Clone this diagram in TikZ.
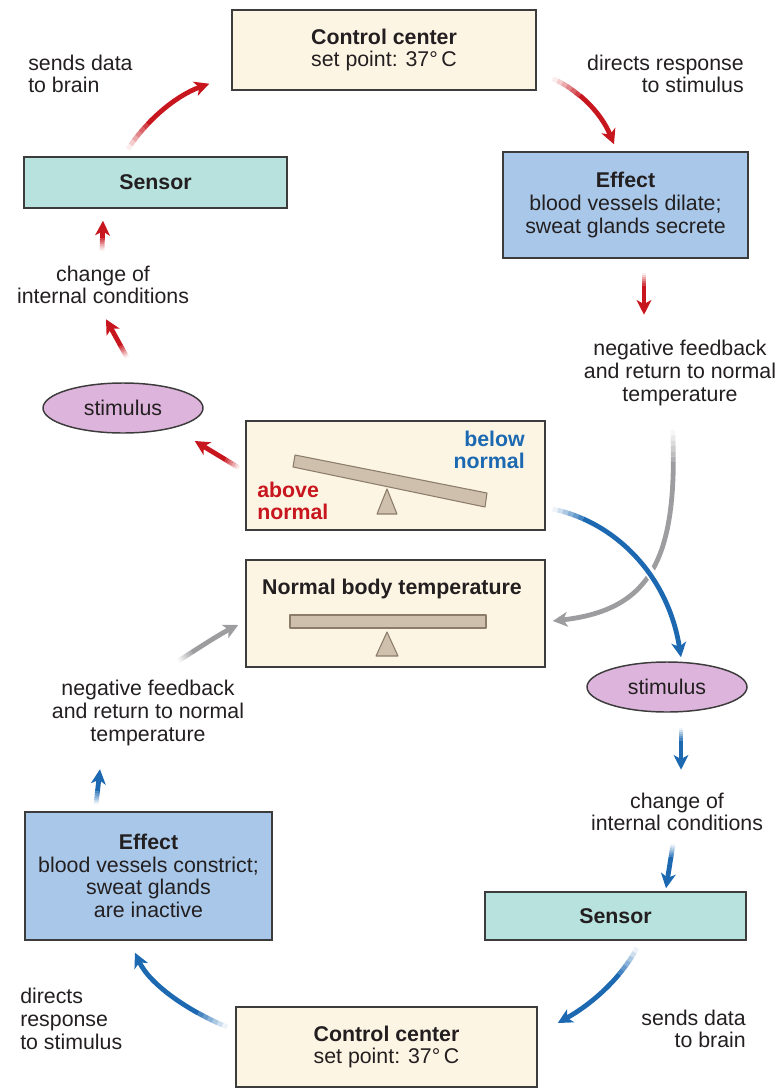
\documentclass[tikz,border=0pt]{standalone}
\usepackage{fontspec}
\setmainfont{Liberation Sans}
\usetikzlibrary{arrows.meta,shapes.geometric}

\definecolor{cream}{HTML}{FDF5E4}
\definecolor{sensorfill}{HTML}{B8E2DE}
\definecolor{effectfill}{HTML}{A9C8E9}
\definecolor{stimfill}{HTML}{DDB4DB}
\definecolor{beamfill}{HTML}{CEC0AD}
\definecolor{beamline}{HTML}{8C7D6A}
\definecolor{boxline}{HTML}{3C3C3C}
\definecolor{ink}{HTML}{231F20}
\definecolor{hotred}{HTML}{C8161E}
\definecolor{coldblue}{HTML}{1C69B2}
\definecolor{returngray}{HTML}{9D9DA0}

% one drawing unit = one pixel of the 775 x 1089 canvas
\newcommand\upx{pt*0.75}

% an arrow whose tail fades in over six steps of length #2
\newcommand\fadeflow[3]{%
  \foreach \k/\op in {0/0.08,1/0.22,2/0.37,3/0.52,4/0.67,5/0.82}{%
    \pgfmathsetlengthmacro\fadegap{\k*#2}%
    \draw[#1, opacity=\op, dash pattern=on 0pt off {\fadegap} on {#2} off 3000pt] #3;}%
  \pgfmathsetlengthmacro\fadegap{6*#2}%
  \draw[#1, tip, dash pattern=on 0pt off {\fadegap} on 3000pt off 0pt] #3;}

\tikzset{
  box/.style={draw=boxline, line width=1.1pt, inner sep=0pt, align=center},
  centerbox/.style={box, fill=cream},
  sensorbox/.style={box, fill=sensorfill},
  effectbox/.style={box, fill=effectfill},
  stimbox/.style={ellipse, draw=boxline, line width=1.1pt, fill=stimfill, inner sep=0pt,
                  minimum width=160\upx, minimum height=50\upx},
  lbl/.style={inner sep=0pt},
  hot/.style={hotred, line width=3.6pt},
  cold/.style={coldblue, line width=3.6pt},
  back/.style={returngray, line width=3.6pt},
  tip/.style={-{Stealth[length=11pt,width=11pt,inset=3pt]}},
  beam/.style={fill=beamfill, draw=beamline, line width=0.8pt, line join=round},
}

\begin{document}
\begin{tikzpicture}[x=0.75pt, y=-0.75pt, text=ink,
    font=\fontsize{16}{17}\selectfont]
\useasboundingbox (0,0) rectangle (775,1089);

% ---------- boxes ----------
\node[centerbox, minimum width=304\upx, minimum height=80\upx] (ccTop) at (384,50)
  {\textbf{Control center}\\set point: 37°\,C};
\node[sensorbox, minimum width=263\upx, minimum height=51\upx] (sensorTL) at (155.5,182.5)
  {\textbf{Sensor}};
\node[effectbox, minimum width=245\upx, minimum height=106\upx] (effTR) at (625.5,205)
  {\textbf{Effect}\\blood vessels dilate;\\sweat glands secrete};
\node[stimbox] (stimL) at (123,408) {stimulus};

\node[centerbox, minimum width=299\upx, minimum height=109\upx] (tiltBox) at (395.5,475.5) {};
\node[centerbox, minimum width=299\upx, minimum height=107\upx] (normBox) at (395.5,613.5) {};

\node[stimbox] (stimR) at (667,687) {stimulus};
\node[sensorbox, minimum width=261\upx, minimum height=48\upx] (sensorBR) at (615.5,916)
  {\textbf{Sensor}};
\node[effectbox, minimum width=247\upx, minimum height=128\upx] (effBL) at (148.5,876)
  {\textbf{Effect}\\blood vessels constrict;\\sweat glands\\are inactive};
\node[centerbox, minimum width=301\upx, minimum height=80\upx] (ccBot) at (386.5,1047)
  {\textbf{Control center}\\set point: 37°\,C};

% ---------- seesaws ----------
\filldraw[beam] (295,455) -- (487,493) -- (485,507) -- (293,467) -- cycle;
\filldraw[beam] (387,489) -- (397,514) -- (377,514) -- cycle;
\node[lbl, anchor=east, align=right, text=coldblue, font=\fontsize{16}{17}\selectfont\bfseries]
  (belowLbl) at (525,450) {below\\normal};
\node[lbl, anchor=west, align=left, text=hotred, font=\fontsize{16}{17}\selectfont\bfseries]
  (aboveLbl) at (257,501) {above\\normal};

\node[lbl, font=\fontsize{16}{17}\selectfont\bfseries] (normLbl) at (392,589)
  {Normal body temperature};
\filldraw[beam] (290,615) rectangle (486,628);
\filldraw[beam] (387,632) -- (398,656) -- (376,656) -- cycle;

% ---------- free labels ----------
\node[lbl, anchor=west, align=left] (sendsTop) at (28,74) {sends data\\to brain};
\node[lbl, anchor=east, align=right] (directsTop) at (744,74) {directs response\\to stimulus};
\node[lbl, align=center] (chgL) at (103,285) {change of\\internal conditions};
\node[lbl, align=center] (nfR) at (680,373) {negative feedback\\and return to normal\\temperature};
\node[lbl, align=center] (nfL) at (148,713) {negative feedback\\and return to normal\\temperature};
\node[lbl, align=center] (chgR) at (677,812) {change of\\internal conditions};
\node[lbl, anchor=west, align=left] (directsBot) at (20,1019) {directs\\response\\to stimulus};
\node[lbl, anchor=east, align=right] (sendsBot) at (746,1029) {sends data\\to brain};

% ---------- above-normal loop (red) ----------
\fadeflow{hot}{4pt}{([shift={(-27.5,-7)}]sensorTL.north) .. controls (145,122) and (175,96) .. ([shift={(-22,-7)}]ccTop.south west)}
\fadeflow{hot}{4pt}{([shift={(16,-12)}]ccTop.south east) .. controls (575,88) and (600,110) .. ([shift={(-11.5,-7)}]effTR.north)}
\fadeflow{hot}{1.6pt}{([shift={(18.5,14)}]effTR.south) -- ([shift={(18.5,56)}]effTR.south)}
\fadeflow{hot}{1.6pt}{([shift={(-53.5,42)}]sensorTL.south) -- ([shift={(-52.5,12)}]sensorTL.south)}
\fadeflow{hot}{1.6pt}{([shift={(4,-25)}]stimL.north) -- ([shift={(-17,-63)}]stimL.north)}
\fadeflow{hot}{2pt}{([shift={(-6,-7.5)}]tiltBox.west) -- ([shift={(-9,33)}]stimL.east)}

% ---------- return to normal (gray) ----------
\fadeflow{back}{4pt}{([shift={(127,-183.5)}]normBox.east) .. controls (678,560) and (650,610) .. ([shift={(7,7.5)}]normBox.east)}
\fadeflow{back}{2pt}{([shift={(-67,47.5)}]normBox.west) .. controls (200,647) and (220,634) .. ([shift={(-7,11.5)}]normBox.west)}

% ---------- below-normal loop (blue) ----------
\draw[white, line width=7.5pt, shorten >=14pt]
  ([shift={(7,33.5)}]tiltBox.east) .. controls (615,522) and (668,575) .. ([shift={(14,-4)}]stimR.north);
\fadeflow{cold}{4pt}{([shift={(7,33.5)}]tiltBox.east) .. controls (615,522) and (668,575) .. ([shift={(14,-4)}]stimR.north)}
\fadeflow{cold}{1.6pt}{([shift={(14,15)}]stimR.south) -- ([shift={(14,57)}]stimR.south)}
\fadeflow{cold}{1.6pt}{([shift={(57.5,-47)}]sensorBR.north) -- ([shift={(50.5,-3)}]sensorBR.north)}
\fadeflow{cold}{4pt}{([shift={(21.5,7)}]sensorBR.south) .. controls (620,980) and (590,1005) .. ([shift={(20,-24)}]ccBot.east)}
\fadeflow{cold}{4pt}{([shift={(-8,-20)}]ccBot.west) .. controls (190,1012) and (150,985) .. ([shift={(-13.5,12)}]effBL.south)}
\fadeflow{cold}{1.6pt}{([shift={(-52.5,-7)}]effBL.north) -- ([shift={(-48.5,-42)}]effBL.north)}

\end{tikzpicture}
\end{document}
